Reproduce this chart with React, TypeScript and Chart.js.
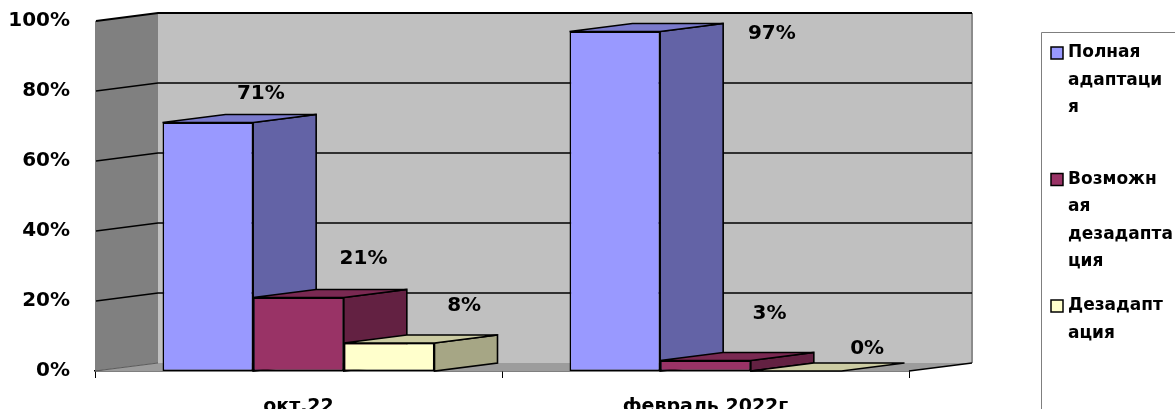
import React, { useEffect, useRef } from 'react';
import { Chart, registerables } from 'chart.js';

Chart.register(...registerables);

// ---- data ----
const categories = ['окт.22', 'февраль 2022г'];
const seriesNames = ['Полная адаптация', 'Возможная дезадаптация', 'Дезадаптация'];
const legendLines = [
  ['Полная', 'адаптаци', 'я'],
  ['Возможн', 'ая', 'дезадапта', 'ция'],
  ['Дезадапт', 'ация'],
];
const fullAdaptation = [71, 97];
const possibleMaladaptation = [21, 3];
const maladaptation = [8, 0];
const yTickValues = [0, 20, 40, 60, 80, 100];

// ---- styles ----
const seriesColors = ['#9999FF', '#993366', '#FFFFCC'];
// label nudges (px) relative to the top-front centre of each bar: [series][category]
const labelNudges = [
  [[53, -29], [157, 2]],
  [[65, -39], [64, -47]],
  [[75, -37], [71, -22]],
];
const FONT = '"DejaVu Sans", sans-serif';
const DX = 63;
const DY = 8;

function shade(hex: string, f: number) {
  const n = parseInt(hex.slice(1), 16);
  const r = Math.round(((n >> 16) & 255) * f);
  const g = Math.round(((n >> 8) & 255) * f);
  const b = Math.round((n & 255) * f);
  return `rgb(${r},${g},${b})`;
}

function poly(ctx: CanvasRenderingContext2D, pts: number[][], fill?: string, stroke?: string, lw = 1.5) {
  ctx.beginPath();
  ctx.moveTo(pts[0][0], pts[0][1]);
  for (let i = 1; i < pts.length; i++) ctx.lineTo(pts[i][0], pts[i][1]);
  ctx.closePath();
  if (fill) {
    ctx.fillStyle = fill;
    ctx.fill();
  }
  if (stroke) {
    ctx.strokeStyle = stroke;
    ctx.lineWidth = lw;
    ctx.lineJoin = 'miter';
    ctx.stroke();
  }
}

const threeD = {
  id: 'threeD',
  beforeDatasetsDraw(chart: any) {
    const ctx: CanvasRenderingContext2D = chart.ctx;
    const { left: L, right: R } = chart.chartArea;
    const ys = chart.scales.y;
    const y0 = ys.getPixelForValue(0);
    const y100 = ys.getPixelForValue(100);
    ctx.save();
    // back wall
    ctx.fillStyle = '#C0C0C0';
    ctx.fillRect(L + DX, y100 - DY, R - L, y0 - y100);
    // right edge of back wall
    ctx.strokeStyle = '#8C8C8C';
    ctx.lineWidth = 2;
    ctx.beginPath();
    ctx.moveTo(R + DX, y100 - DY);
    ctx.lineTo(R + DX, y0 - DY);
    ctx.stroke();
    // left wall
    poly(ctx, [[L, y100], [L + DX, y100 - DY], [L + DX, y0 - DY], [L, y0]], '#808080');
    // floor
    poly(ctx, [[L, y0], [R, y0], [R + DX, y0 - DY], [L + DX, y0 - DY]], '#9C9C9C');
    ctx.strokeStyle = '#5A5A5A';
    ctx.lineWidth = 1;
    ctx.beginPath();
    ctx.moveTo(L, y0);
    ctx.lineTo(L + DX, y0 - DY);
    ctx.stroke();
    ctx.strokeStyle = '#000';
    ctx.lineWidth = 1.5;
    ctx.beginPath();
    ctx.moveTo(R, y0);
    ctx.lineTo(R + DX, y0 - DY);
    ctx.stroke();
    // gridlines
    for (const v of yTickValues) {
      if (v === 0) continue;
      const yv = ys.getPixelForValue(v);
      ctx.strokeStyle = '#000';
      ctx.lineWidth = v === 100 ? 2 : 1.6;
      ctx.beginPath();
      ctx.moveTo(L + 1, yv);
      ctx.lineTo(L + DX, yv - DY);
      ctx.lineTo(R + DX, yv - DY);
      ctx.stroke();
    }
    // bar side and top faces, left to right
    const n = chart.data.labels.length;
    for (let i = 0; i < n; i++) {
      chart.data.datasets.forEach((ds: any, d: number) => {
        const el = chart.getDatasetMeta(d).data[i];
        const { x, y, base, width } = el.getProps(['x', 'y', 'base', 'width'], true);
        const l = x - width / 2;
        const r = x + width / 2;
        const c = seriesColors[d];
        if (base - y > 0.5) {
          poly(ctx, [[r, y], [r + DX, y - DY], [r + DX, base - DY], [r, base]], shade(c, 0.65), '#000', 1.6);
        }
        poly(ctx, [[l, y], [r, y], [r + DX, y - DY], [l + DX, y - DY]], shade(c, 0.8), '#000', 1.6);
      });
    }
    ctx.restore();
  },
  afterDatasetsDraw(chart: any) {
    const ctx: CanvasRenderingContext2D = chart.ctx;
    ctx.save();
    ctx.font = `bold 20px ${FONT}`;
    ctx.fillStyle = '#000';
    ctx.textAlign = 'center';
    ctx.textBaseline = 'middle';
    chart.data.datasets.forEach((ds: any, d: number) => {
      chart.getDatasetMeta(d).data.forEach((el: any, i: number) => {
        const { x, y } = el.getProps(['x', 'y'], true);
        const [nx, ny] = labelNudges[d][i];
        ctx.fillText(`${ds.data[i]}%`, x + nx, y + ny);
      });
    });
    ctx.restore();
  },
  afterDraw(chart: any) {
    const ctx: CanvasRenderingContext2D = chart.ctx;
    const W = chart.width;
    const H = chart.height;
    ctx.save();
    // legend frame
    ctx.strokeStyle = '#7F7F7F';
    ctx.lineWidth = 1;
    ctx.beginPath();
    ctx.moveTo(1041.5, H + 2);
    ctx.lineTo(1041.5, 32.5);
    ctx.lineTo(W + 2, 32.5);
    ctx.stroke();
    ctx.font = `bold 17px ${FONT}`;
    ctx.textAlign = 'left';
    ctx.textBaseline = 'middle';
    seriesNames.forEach((name, k) => {
      const top = 53 + k * 126.5;
      ctx.fillStyle = seriesColors[k];
      ctx.fillRect(1051, top - 6, 12, 12);
      ctx.strokeStyle = '#000';
      ctx.lineWidth = 1.5;
      ctx.strokeRect(1051, top - 6, 12, 12);
      ctx.fillStyle = '#000';
      legendLines[k].forEach((line, j) => {
        ctx.fillText(line, 1068, top + j * 27.5);
      });
    });
    ctx.restore();
  },
};

export default function App() {
  const ref = useRef<HTMLCanvasElement | null>(null);
  useEffect(() => {
    if (!ref.current) return;
    const seriesData = [fullAdaptation, possibleMaladaptation, maladaptation];
    const chart = new Chart(ref.current, {
      type: 'bar',
      data: {
        labels: categories,
        datasets: seriesNames.map((name, k) => ({
          label: name,
          data: seriesData[k],
          backgroundColor: seriesColors[k],
          borderColor: '#000',
          borderWidth: 1.6,
          borderSkipped: false,
          barPercentage: 1,
          categoryPercentage: 272 / 407,
        })),
      },
      options: {
        responsive: false,
        animation: false,
        layout: { padding: { top: 21, right: 266, left: 0, bottom: 0 } },
        plugins: { legend: { display: false }, tooltip: { enabled: false } },
        scales: {
          x: {
            grid: { display: true, drawOnChartArea: false, drawTicks: true, tickLength: 7, color: '#000', lineWidth: 1 },
            border: { display: true, color: '#000', width: 1.5 },
            ticks: { font: { family: FONT, size: 19, weight: 'bold' }, color: '#000', padding: 18, maxRotation: 0, autoSkip: false },
            afterFit: (s: any) => {
              s.height = 38;
              s.paddingLeft = 0;
              s.paddingRight = 0;
            },
          },
          y: {
            min: 0,
            max: 100,
            ticks: {
              stepSize: 20,
              callback: (v: any) => `${v}%`,
              font: { family: FONT, size: 20, weight: 'bold' },
              color: '#000',
              padding: 17,
            },
            grid: { display: false },
            border: { display: false },
            afterFit: (s: any) => {
              s.width = 95;
              s.paddingTop = 0;
              s.paddingBottom = 0;
            },
          },
        },
      },
      plugins: [threeD],
    } as any);
    return () => chart.destroy();
  }, []);
  return (
    <div style={{ position: 'fixed', left: 0, top: 0, width: 1175, height: 409, background: '#fff' }}>
      <canvas ref={ref} width={1175} height={409} style={{ display: 'block' }} />
    </div>
  );
}
